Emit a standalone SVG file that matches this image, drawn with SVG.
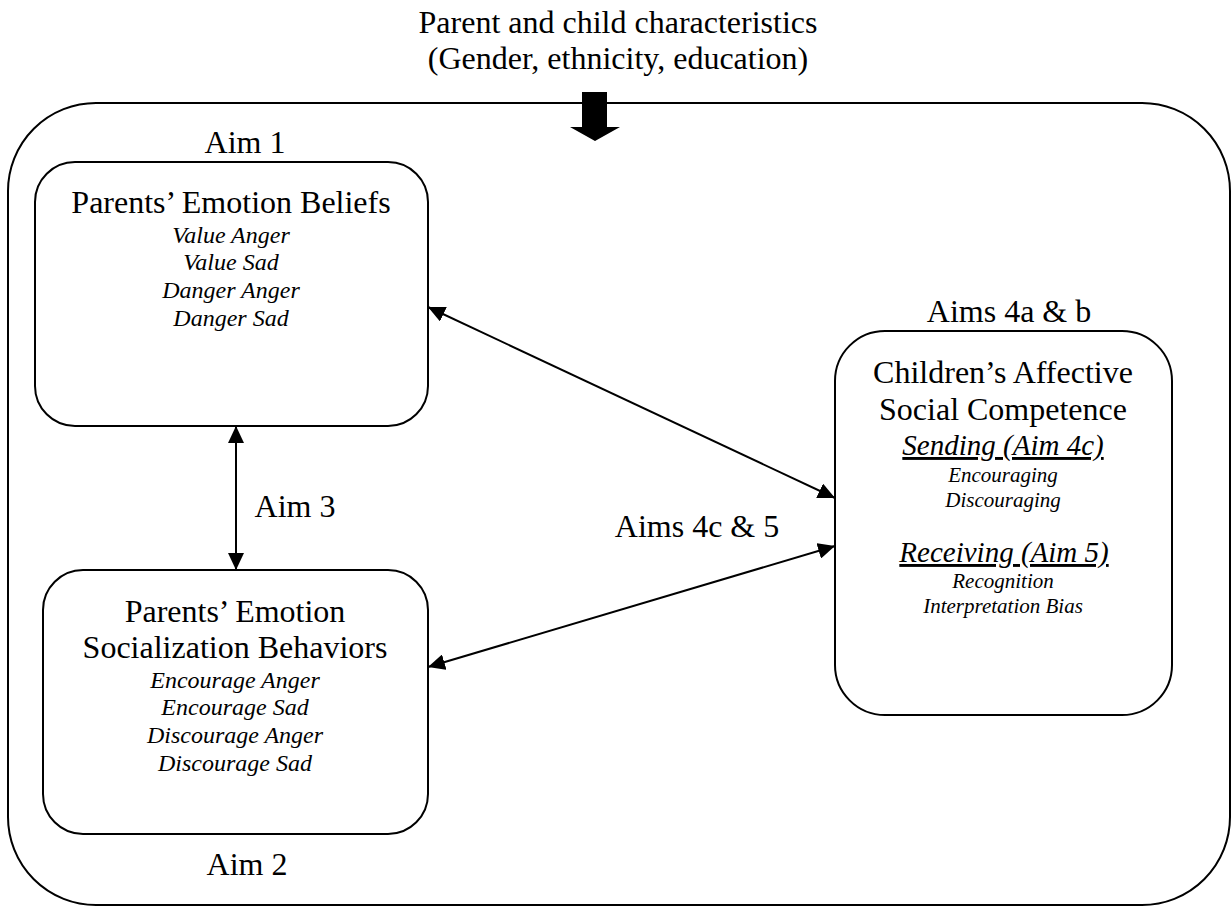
<svg xmlns="http://www.w3.org/2000/svg" width="1231" height="907" viewBox="0 0 1231 907">
  <style>
    text { font-family: "Liberation Serif", "Times New Roman", serif; fill: #000; text-anchor: middle; }
    .t32 { font-size: 32px; }
    .it24 { font-size: 24px; font-style: italic; }
    .it21 { font-size: 21px; font-style: italic; }
    .ul29 { font-size: 29px; font-style: italic; text-decoration: underline; }
    .box { fill: none; stroke: #000; stroke-width: 2; }
    .conn { stroke: #000; stroke-width: 2; fill: none; marker-start: url(#ah); marker-end: url(#ah); }
  </style>
  <defs>
    <marker id="ah" markerUnits="userSpaceOnUse" markerWidth="18" markerHeight="16" refX="17" refY="8" orient="auto-start-reverse" viewBox="0 0 18 16">
      <path d="M0,0 L17,8 L0,16 Z" fill="#000"/>
    </marker>
  </defs>
  <rect width="1231" height="907" fill="#fff"/>

  <g id="context">
    <text class="t32" x="618" y="33">Parent and child characteristics</text>
    <text class="t32" x="618" y="69">(Gender, ethnicity, education)</text>
    <rect class="box" x="8" y="103" width="1222" height="802" rx="88" ry="88"/>
    <polygon points="582,92 607,92 607,127 620,127 595,141 570,127 582,127" fill="#000"/>
  </g>

  <g id="beliefs">
    <text class="t32" x="245" y="153">Aim 1</text>
    <rect class="box" x="35" y="162" width="393" height="264" rx="40" ry="40"/>
    <text class="t32" x="231" y="213">Parents’ Emotion Beliefs</text>
    <text class="it24" x="231" y="243">Value Anger</text>
    <text class="it24" x="231" y="270">Value Sad</text>
    <text class="it24" x="231" y="298">Danger Anger</text>
    <text class="it24" x="231" y="326">Danger Sad</text>
  </g>

  <g id="behaviors">
    <rect class="box" x="43" y="570" width="385" height="264" rx="40" ry="40"/>
    <text class="t32" x="235" y="622">Parents’ Emotion</text>
    <text class="t32" x="235" y="658">Socialization Behaviors</text>
    <text class="it24" x="235" y="688">Encourage Anger</text>
    <text class="it24" x="235" y="715">Encourage Sad</text>
    <text class="it24" x="235" y="743">Discourage Anger</text>
    <text class="it24" x="235" y="771">Discourage Sad</text>
    <text class="t32" x="247" y="875">Aim 2</text>
  </g>

  <g id="competence">
    <text class="t32" x="1009" y="322">Aims 4a &amp; b</text>
    <rect class="box" x="835" y="331" width="337" height="384" rx="50" ry="50"/>
    <text class="t32" x="1003" y="383">Children’s Affective</text>
    <text class="t32" x="1003" y="420">Social Competence</text>
    <text class="ul29" x="1003" y="455">Sending (Aim 4c)</text>
    <text class="it21" x="1003" y="482">Encouraging</text>
    <text class="it21" x="1003" y="507">Discouraging</text>
    <text class="ul29" x="1004" y="562">Receiving (Aim 5)</text>
    <text class="it21" x="1003" y="588">Recognition</text>
    <text class="it21" x="1003" y="613">Interpretation Bias</text>
  </g>

  <g id="connectors">
    <line class="conn" x1="236" y1="426" x2="236" y2="570"/>
    <line class="conn" x1="428" y1="307" x2="835" y2="498"/>
    <line class="conn" x1="428" y1="667" x2="835" y2="546"/>
    <text class="t32" x="295" y="517">Aim 3</text>
    <text class="t32" x="697" y="537">Aims 4c &amp; 5</text>
  </g>
</svg>
